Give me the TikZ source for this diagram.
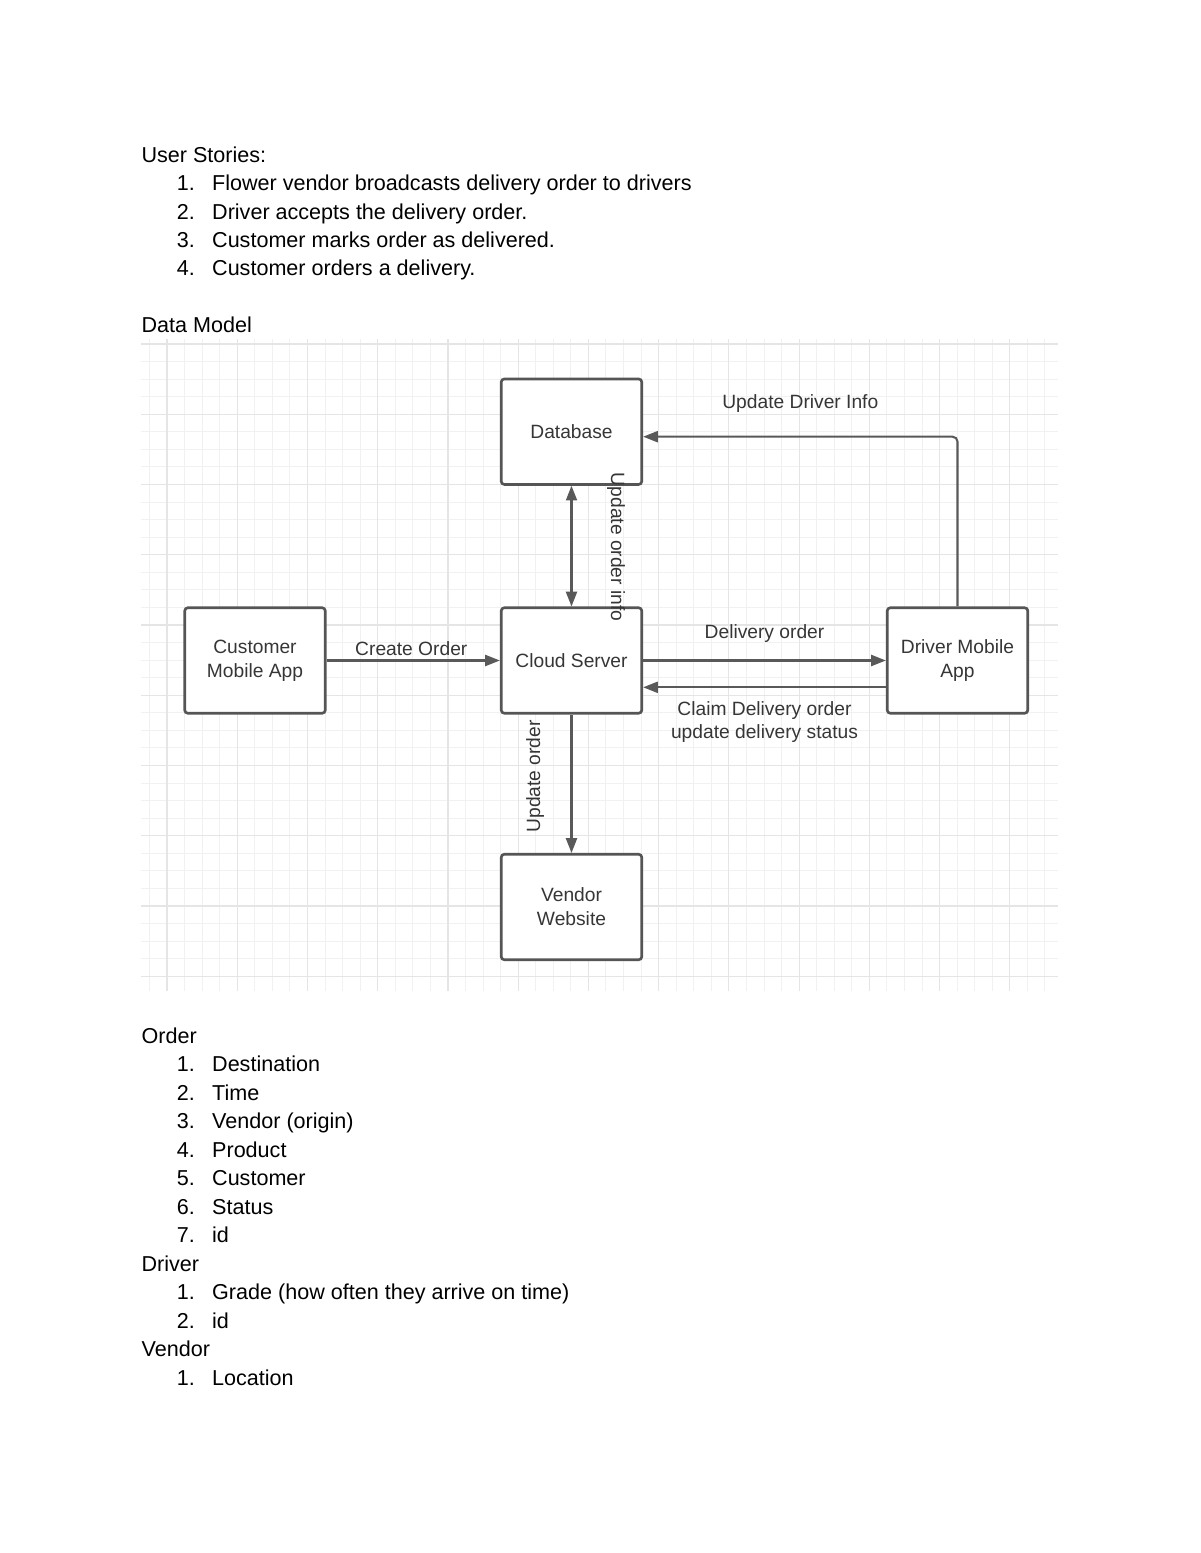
\documentclass[tikz,border=0pt]{standalone}
\usepackage{fontspec}
\setmainfont{Liberation Sans}
\usetikzlibrary{arrows.meta,calc}
\definecolor{linec}{HTML}{595959}
\definecolor{boxc}{HTML}{555555}
\definecolor{lblc}{HTML}{363636}
\definecolor{gmin}{HTML}{F1F1F1}
\definecolor{gmaj}{HTML}{E5E5E5}
\begin{document}
\begin{tikzpicture}[x=0.51pt,y=-0.51pt,
  body/.style={anchor=base west, inner sep=0pt, font=\fontsize{11}{13}\selectfont, text=black},
  item/.style={body},
  box/.style={draw=boxc, line width=1.35pt, rounded corners=1.6pt, fill=white,
    minimum width=71.7pt, minimum height=53.8pt, align=center, text=lblc,
    font=\fontsize{9.8}{12.2}\selectfont, inner sep=0pt},
  lbl/.style={font=\fontsize{9.8}{11.8}\selectfont, text=lblc, inner sep=0pt, align=center},
  arr/.style={draw=linec, line width=1.05pt, -{Triangle[length=7.5pt,width=5.6pt]}},
  darr/.style={draw=linec, line width=1.05pt, {Triangle[length=7.5pt,width=5.6pt]}-{Triangle[length=7.5pt,width=5.6pt]}}
]
\useasboundingbox (0,0) rectangle (1200,1553);
\fill[white] (0,0) rectangle (1200,1553);

% ---- text above ----
\node[body] (us) at (141.2,162.7) {User Stories:};
\node[item] (us1) at (176.5,190.7) {\makebox[18pt][l]{1.}Flower vendor broadcasts delivery order to drivers};
\node[item] (us2) at (176.5,219.1) {\makebox[18pt][l]{2.}Driver accepts the delivery order.};
\node[item] (us3) at (176.5,247.5) {\makebox[18pt][l]{3.}Customer marks order as delivered.};
\node[item] (us4) at (176.5,275.9) {\makebox[18pt][l]{4.}Customer orders a delivery.};
\node[body] (dm) at (141.2,332.5) {Data Model};

% ---- grid ----
\foreach \j in {0,...,51} \draw[gmin, line width=0.5pt] ({149.4+\j*17.56},339) -- ({149.4+\j*17.56},991);
\foreach \k in {0,...,36} \draw[gmin, line width=0.5pt] (141,{344+\k*17.56}) -- (1058,{344+\k*17.56});
\foreach \j in {1,5,...,49} \draw[gmaj, line width=0.6pt] ({149.4+\j*17.56},339) -- ({149.4+\j*17.56},991);
\foreach \k in {0,4,...,36} \draw[gmaj, line width=0.6pt] (141,{344+\k*17.56}) -- (1058,{344+\k*17.56});

% ---- boxes ----
\node[box] (db) at (571.5,431.7) {Database};
\node[box] (cust) at (255,660.5) {Customer\\Mobile App};
\node[box] (cloud) at (571.5,660.5) {Cloud Server};
\node[box] (drv) at (957.5,660.5) {Driver Mobile\\App};
\node[box] (vend) at (571.5,907) {Vendor\\Website};

% ---- connectors ----
\draw[darr] (db.south) -- node[lbl, pos=0.5, xshift=22.8pt, yshift=-0.5pt, rotate=-90] {Update order info} (cloud.north);
\draw[arr] (cust.east) -- node[lbl, pos=0.5, xshift=-1pt, yshift=5.9pt] {Create Order} (cloud.west);
\draw[arr] (cloud.east) -- node[lbl, pos=0.5, yshift=13.6pt] {Delivery order} (drv.west);
\draw[arr] ($(drv.west)+(0,26.8)$) -- node[lbl, pos=0.5, yshift=-17.6pt] {Claim Delivery order\\update delivery status} ($(cloud.east)+(0,26.8)$);
\draw[arr, rounded corners=2.5pt] (drv.north) |- node[lbl, pos=0.75, yshift=16.8pt] {Update Driver Info} ($(db.east)+(0,5)$);
\draw[arr] (cloud.south) -- node[lbl, pos=0.5, xshift=-18.6pt, yshift=3.8pt, rotate=90] {Update order} (vend.north);

% ---- text below ----
\node[body] (ord) at (141.2,1043.3) {Order};
\node[item] (o1) at (176.5,1071.8) {\makebox[18pt][l]{1.}Destination};
\node[item] (o2) at (176.5,1100.3) {\makebox[18pt][l]{2.}Time};
\node[item] (o3) at (176.5,1128.8) {\makebox[18pt][l]{3.}Vendor (origin)};
\node[item] (o4) at (176.5,1157.3) {\makebox[18pt][l]{4.}Product};
\node[item] (o5) at (176.5,1185.8) {\makebox[18pt][l]{5.}Customer};
\node[item] (o6) at (176.5,1214.3) {\makebox[18pt][l]{6.}Status};
\node[item] (o7) at (176.5,1242.8) {\makebox[18pt][l]{7.}id};
\node[body] (drvh) at (141.2,1271.3) {Driver};
\node[item] (d1) at (176.5,1299.8) {\makebox[18pt][l]{1.}Grade (how often they arrive on time)};
\node[item] (d2) at (176.5,1328.3) {\makebox[18pt][l]{2.}id};
\node[body] (venh) at (141.2,1356.8) {Vendor};
\node[item] (v1) at (176.5,1385.3) {\makebox[18pt][l]{1.}Location};
\end{tikzpicture}
\end{document}
